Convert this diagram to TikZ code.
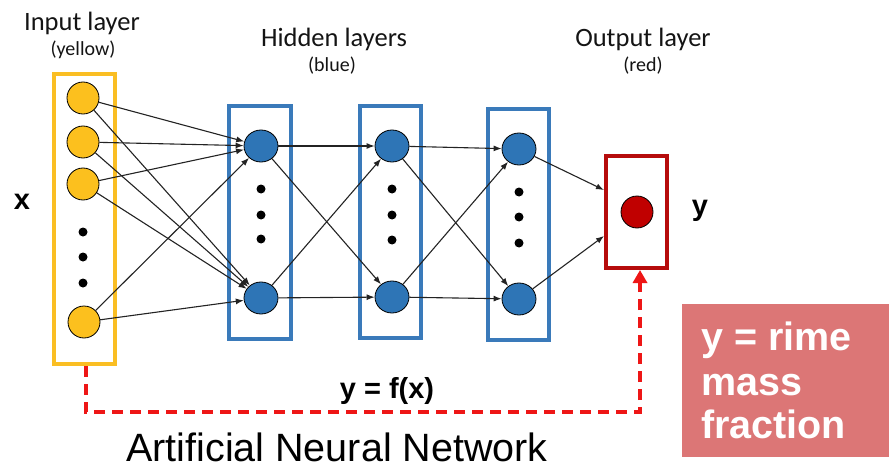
\documentclass[tikz,border=0pt]{standalone}
\usepackage{fontspec}
\setmainfont{Liberation Sans}
\newfontfamily\calfont{Carlito}
\usetikzlibrary{arrows.meta,shapes.geometric}
\definecolor{ylwfill}{RGB}{252,192,30}
\definecolor{ylwbox}{RGB}{250,190,35}
\definecolor{bluefill}{RGB}{46,117,182}
\definecolor{bluebox}{RGB}{58,122,186}
\definecolor{redfill}{RGB}{192,0,0}
\definecolor{redbox}{RGB}{182,12,12}
\definecolor{dashred}{RGB}{238,22,22}
\definecolor{pinkbox}{RGB}{220,118,118}
\definecolor{edgecol}{RGB}{35,35,35}
\definecolor{labcol}{RGB}{20,20,20}
\begin{document}
\begin{tikzpicture}[x=1pt,y=-1pt,
  layerbox/.style={draw, line width=4pt, inner sep=0pt, fill=white},
  ynode/.style={circle, draw=black, line width=0.8pt, fill=ylwfill, minimum size=32pt, inner sep=0pt},
  bnode/.style={ellipse, draw=black, line width=0.8pt, fill=bluefill, minimum width=34pt, minimum height=32pt, inner sep=0pt},
  rnode/.style={circle, draw=black, line width=0.8pt, fill=redfill, minimum size=32pt, inner sep=0pt},
  ddot/.style={circle, fill=black, minimum size=9pt, inner sep=0pt},
  conn/.style={draw=edgecol, line width=1.1pt, -{Latex[length=8pt,width=6pt]}},
  title/.style={anchor=base, text=labcol, font=\calfont\fontsize{26.5}{28}\selectfont},
  subtitle/.style={anchor=base, text=labcol, font=\calfont\fontsize{20}{22}\selectfont},
  biglab/.style={anchor=base, font=\bfseries\fontsize{29}{32}\selectfont},
  pinktext/.style={anchor=base west, text=white, inner sep=0pt, font=\bfseries\fontsize{39.5}{44}\selectfont}
]
\useasboundingbox (0,0) rectangle (889,468);

% layer boxes
\node[layerbox, draw=ylwbox, minimum width=61pt, minimum height=290pt] (inbox) at (84.5,219) {};
\node[layerbox, draw=bluebox, minimum width=62pt, minimum height=233pt] (hbox1) at (260,222.5) {};
\node[layerbox, draw=bluebox, minimum width=61pt, minimum height=232pt] (hbox2) at (390.5,222) {};
\node[layerbox, draw=bluebox, minimum width=61pt, minimum height=231pt] (hbox3) at (518.5,224.5) {};
\node[layerbox, draw=redbox, minimum width=61pt, minimum height=112pt] (outbox) at (636.5,212) {};

% input nodes
\node[ynode] (i1) at (83,98) {};
\node[ynode] (i2) at (83,142) {};
\node[ynode] (i3) at (83,184) {};
\node[ynode] (i4) at (84,322) {};
\node[ddot] (id1) at (83,232) {};
\node[ddot] (id2) at (83,257) {};
\node[ddot] (id3) at (83,283) {};

% hidden layer 1
\node[bnode] (a1) at (261,146) {};
\node[bnode] (a2) at (261,298) {};
\node[ddot] (ad1) at (261,189) {};
\node[ddot] (ad2) at (261,215) {};
\node[ddot] (ad3) at (261,239) {};

% hidden layer 2
\node[bnode] (b1) at (392,146) {};
\node[bnode] (b2) at (392,297) {};
\node[ddot] (bd1) at (392,189) {};
\node[ddot] (bd2) at (392,215) {};
\node[ddot] (bd3) at (392,240) {};

% hidden layer 3
\node[bnode] (c1) at (519,149) {};
\node[bnode] (c2) at (519,299) {};
\node[ddot] (cd1) at (519,192) {};
\node[ddot] (cd2) at (519,217) {};
\node[ddot] (cd3) at (519,243) {};

% output
\node[rnode] (o1) at (637,212) {};

% connections
\foreach \s in {i1,i2,i3,i4}{
  \foreach \t in {a1,a2}{ \draw[conn] (\s) -- (\t); }
}
\foreach \s in {a1,a2}{
  \foreach \t in {b1,b2}{ \draw[conn] (\s) -- (\t); }
}
\foreach \s in {b1,b2}{
  \foreach \t in {c1,c2}{ \draw[conn] (\s) -- (\t); }
}
\draw[conn] (c1) -- (outbox.west |- 0,190);
\draw[conn] (c2) -- (outbox.west |- 0,236);

% dashed feedback
\coordinate (dstart) at ([xshift=1.5pt]inbox.south);
\coordinate (dend) at ([xshift=3.5pt]outbox.south);
\draw[draw=dashred, line width=3.3pt, dash pattern=on 11pt off 7pt, -{Triangle[length=13pt,width=14pt]}]
  (dstart) -- (dstart |- 0,412) -| (dend);

% titles
\node[title] (tin) at (82,31) {Input layer};
\node[subtitle] (sin) at (83,56) {(yellow)};
\node[title] (thid) at (334,47) {Hidden layers};
\node[subtitle] (shid) at (332,72) {(blue)};
\node[title] (tout) at (643,47) {Output layer};
\node[subtitle] (sout) at (643,72) {(red)};

% labels
\node[biglab] (xlab) at (22,209) {x};
\node[biglab] (ylab) at (700,215) {y};
\node[biglab] (flab) at (387,398) {y = f(x)};
\node[anchor=base, inner sep=0pt, text depth=0pt, font=\fontsize{39.5}{42}\selectfont] (ann) at (337,461) {Artificial Neural Network};

% pink box
\node[fill=pinkbox, minimum width=207pt, minimum height=153pt, inner sep=0pt, anchor=north west] (pbox) at (682,304) {};
\node[pinktext] (p1) at (701,350) {y = rime};
\node[pinktext] (p2) at (701,395) {mass};
\node[pinktext] (p3) at (701,438) {fraction};
\end{tikzpicture}
\end{document}
